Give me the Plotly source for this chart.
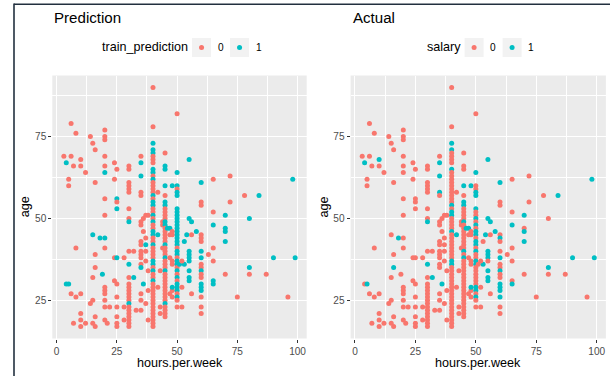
import plotly.graph_objects as go

# ---------------- data ----------------
hours = [
    3, 6, 4, 7, 10, 10, 5, 5, 6, 8, 12, 8, 4, 5, 6, 8, 10, 7, 10, 10, 10, 12,
    14, 15, 16, 16, 15, 16, 16, 15, 14, 15, 15, 16, 16,
    18, 19, 20, 20, 20, 20, 20, 20, 20, 20, 20, 20, 20, 20, 20, 20, 20, 20, 21,
    22, 24, 25, 24, 25, 25, 25, 24, 25, 24, 25, 25, 25, 25, 25, 25, 28, 28, 28,
    30, 30, 30, 30, 30, 30, 30, 30, 30, 30, 30, 30, 30, 30, 30, 30, 30, 30, 30, 30, 30, 30, 30, 30, 30, 30,
    32, 32, 33, 35, 35, 35, 35, 35, 35, 35, 35, 35, 35, 35, 35, 35, 35, 35, 35, 35, 36, 37, 38, 36, 37, 37, 38, 36, 37,
    37, 38, 38, 37,
    40, 40, 40, 40, 40, 40, 40, 40, 40, 40, 40, 40, 40, 40, 40, 40, 40, 40, 40, 40, 40, 40, 40, 40, 40, 40, 40, 40,
    40, 40, 40, 40, 40, 40, 40, 40, 40, 40, 40, 40, 40, 40, 40, 40, 40, 40, 40, 40, 40, 40, 40, 40, 40, 40, 40, 40, 40,
    42, 42, 42, 43, 43, 43, 44, 44, 44,
    45, 45, 45, 45, 45, 45, 45, 45, 45, 45, 45, 45, 45, 45, 45, 45, 45, 45, 45, 45, 45,
    45, 45, 45, 45, 45, 45, 45, 45, 45, 45, 45, 45, 45, 45, 45, 45, 45, 45, 45, 45,
    46, 47, 47, 48, 48, 47, 48, 48, 48, 48, 47, 48, 48,
    50, 50, 50, 50, 50, 50, 50, 50, 50, 50, 50, 50, 50, 50, 50, 50, 50, 50,
    50, 50, 50, 50, 50, 50, 50, 50, 50, 50, 50, 50, 50, 50, 50, 50, 50, 50,
    51, 52, 52, 53, 53, 52, 54,
    55, 55, 56, 58, 56, 55, 55, 55, 55, 55, 55, 55, 56,
    60, 60, 60, 60, 60, 60, 60, 60, 60, 60, 60, 60, 60, 60, 60, 60, 60, 60, 60,
    63, 65, 65, 65, 65, 65, 65, 65, 70, 70, 70, 70, 70, 72, 72, 75, 78, 80, 80, 80, 84, 87, 90, 96, 98, 99,
]
age = [
    69, 69, 67, 66, 68, 66, 62, 60, 79, 76, 64, 41, 30, 30, 27, 26, 27, 18, 17, 19, 21, 18,
    75, 73, 71, 61, 45, 39, 35, 32, 24, 25, 18, 17, 20,
    44, 33, 77, 75, 74, 69, 66, 64, 56, 51, 44, 41, 29, 28, 27, 25, 23, 19, 18,
    23, 67, 65, 62, 56, 55, 53, 38, 38, 31, 30, 26, 23, 20, 18, 17, 38, 23, 19,
    66, 65, 61, 60, 59, 58, 53, 50, 49, 40, 36, 32, 30, 29, 28, 27, 26, 25, 24, 23, 22, 21, 20, 19, 18, 17,
    40, 32, 22, 69, 67, 63, 58, 57, 49, 48, 43, 42, 40, 39, 38, 36, 35, 27, 25, 22, 50, 51, 51, 30, 42, 37, 19, 46, 44,
    40, 34, 28, 24,
    90, 78, 73, 71, 70, 69, 68, 67, 65, 64, 63, 62, 61, 60, 59, 58, 57, 56, 55, 54, 53, 52, 51, 50, 49, 48, 47, 46,
    45, 44, 43, 42, 41, 40, 39, 38, 37, 36, 35, 34, 33, 32, 31, 30, 29, 28, 27, 26, 25, 24, 23, 22, 21, 20, 19, 18, 17,
    58, 45, 29, 34, 23, 21, 41, 48, 49,
    70, 66, 65, 60, 57, 55, 54, 53, 52, 51, 50, 49, 48, 47, 46, 45, 44, 43, 42, 41, 40,
    39, 38, 37, 36, 35, 34, 33, 32, 31, 30, 29, 28, 27, 26, 25, 24, 23, 22, 21, 20,
    47, 47, 45, 45, 46, 27, 28, 26, 29, 60, 38, 37, 36,
    82, 64, 60, 59, 58, 57, 53, 52, 51, 50, 49, 48, 47, 46, 45, 44, 43, 42,
    41, 40, 39, 38, 37, 36, 35, 34, 33, 32, 31, 30, 29, 28, 27, 26, 25, 23,
    36, 29, 23, 43, 36, 37, 45,
    68, 50, 49, 46, 45, 40, 39, 38, 37, 34, 32, 31, 27,
    61, 55, 54, 45, 44, 43, 40, 38, 36, 35, 34, 33, 32, 30, 29, 28, 26, 23, 21,
    39, 62, 52, 48, 41, 37, 31, 30, 51, 47, 46, 43, 33, 63, 55, 26, 57, 50, 35, 33, 57, 33, 38, 26, 62, 38,
]
train_prediction = [
    0, 0, 1, 0, 0, 0, 0, 0, 0, 0, 0, 0, 1, 1, 0, 0, 0, 0, 0, 0, 0, 0,
    0, 0, 0, 0, 1, 0, 0, 0, 0, 0, 0, 0, 0,
    1, 1, 0, 0, 0, 0, 0, 1, 0, 0, 1, 0, 0, 0, 0, 0, 0, 0, 0,
    0, 0, 0, 0, 1, 0, 1, 0, 1, 0, 0, 0, 0, 0, 0, 0, 0, 0, 0,
    0, 0, 0, 0, 0, 0, 0, 0, 1, 0, 1, 0, 0, 0, 0, 0, 0, 0, 1, 0, 0, 0, 0, 0, 0, 0,
    0, 1, 0, 0, 1, 1, 0, 0, 0, 0, 0, 0, 0, 0, 0, 0, 1, 0, 0, 0, 0, 0, 0, 1, 1, 0, 0, 0, 0,
    0, 0, 0, 0,
    0, 0, 1, 1, 1, 0, 0, 0, 1, 1, 0, 1, 0, 0, 0, 0, 1, 0, 1, 1, 0, 0, 1, 0, 1, 0, 0, 1,
    1, 0, 0, 1, 0, 0, 0, 0, 1, 1, 0, 1, 0, 0, 1, 0, 0, 0, 0, 0, 0, 0, 0, 0, 0, 0, 0, 0, 0,
    0, 1, 0, 0, 0, 0, 0, 0, 0,
    0, 1, 1, 1, 0, 1, 1, 0, 0, 0, 0, 1, 1, 0, 0, 0, 0, 0, 1, 0, 0,
    0, 1, 0, 0, 0, 1, 0, 0, 0, 0, 0, 0, 0, 0, 0, 1, 0, 0, 0, 0,
    1, 1, 0, 0, 0, 0, 0, 0, 1, 1, 0, 0, 0,
    0, 1, 1, 0, 1, 1, 1, 1, 1, 1, 1, 1, 1, 1, 1, 1, 1, 1,
    0, 1, 1, 0, 1, 1, 0, 1, 0, 1, 0, 1, 1, 1, 0, 1, 0, 0,
    1, 0, 0, 1, 1, 0, 1,
    1, 1, 1, 1, 0, 1, 1, 1, 1, 1, 1, 1, 0,
    1, 0, 0, 0, 0, 0, 1, 1, 0, 0, 1, 0, 0, 1, 1, 1, 0, 0, 0,
    0, 0, 0, 1, 0, 0, 1, 1, 1, 1, 1, 1, 0, 0, 0, 0, 0, 1, 1, 0, 1, 0, 1, 0, 1, 1,
]
salary = [
    0, 0, 1, 0, 1, 0, 0, 0, 0, 0, 0, 0, 0, 1, 0, 0, 0, 0, 0, 0, 0, 0,
    0, 0, 0, 0, 0, 0, 1, 0, 0, 0, 0, 0, 0,
    1, 0, 0, 0, 0, 0, 0, 0, 0, 0, 0, 0, 0, 0, 0, 0, 0, 0, 0,
    0, 0, 0, 0, 0, 0, 0, 0, 0, 0, 0, 0, 0, 0, 0, 0, 0, 0, 0,
    0, 0, 0, 0, 0, 0, 0, 0, 1, 0, 1, 0, 0, 0, 0, 0, 0, 0, 0, 0, 0, 0, 0, 0, 0, 0,
    0, 1, 0, 0, 1, 1, 1, 0, 0, 0, 0, 0, 0, 0, 0, 0, 0, 0, 0, 0, 0, 0, 0, 1, 0, 0, 0, 0, 0,
    0, 0, 0, 0,
    0, 0, 1, 1, 0, 0, 0, 0, 1, 0, 0, 0, 0, 0, 0, 0, 0, 0, 0, 1, 0, 1, 1, 0, 0, 0, 0, 1,
    0, 0, 0, 0, 0, 0, 0, 0, 1, 1, 0, 0, 0, 0, 0, 0, 0, 0, 0, 0, 0, 0, 0, 0, 0, 0, 0, 0, 0,
    0, 1, 0, 0, 0, 0, 0, 0, 0,
    0, 0, 0, 1, 0, 1, 1, 0, 0, 0, 0, 1, 0, 0, 0, 0, 0, 0, 0, 0, 1,
    0, 1, 0, 0, 0, 0, 0, 0, 0, 0, 0, 0, 0, 0, 0, 0, 0, 0, 0, 0,
    1, 1, 0, 0, 0, 0, 0, 0, 1, 1, 0, 0, 0,
    0, 1, 0, 0, 1, 1, 1, 0, 0, 1, 0, 1, 0, 1, 1, 0, 1, 1,
    0, 1, 0, 0, 1, 1, 0, 0, 0, 0, 0, 0, 1, 1, 0, 1, 0, 0,
    0, 0, 0, 0, 1, 0, 1,
    1, 1, 1, 1, 0, 1, 1, 1, 0, 1, 1, 1, 0,
    1, 0, 0, 0, 1, 0, 0, 1, 0, 0, 1, 0, 0, 1, 1, 1, 1, 0, 0,
    0, 0, 0, 1, 0, 0, 0, 1, 1, 0, 1, 1, 0, 0, 0, 0, 0, 0, 1, 0, 1, 0, 1, 0, 1, 1,
]
assert len(hours) == len(age) == len(train_prediction) == len(salary)

panel_titles = ["Prediction", "Actual"]
legend_titles = ["train_prediction", "salary"]
legend_levels = ["0", "1"]
x_ticks = [0, 25, 50, 75, 100]
y_ticks = [25, 50, 75]

# ---------------- styling ----------------
W, H = 610, 376
RED, CYAN = "#F8766D", "#00BFC4"
FONT = "Liberation Sans, Arial, Helvetica, sans-serif"
level_colors = [RED, CYAN]


def px(x):
    return x / W


def py(y):
    return 1 - y / H


# ggplot-like expanded ranges (5 %)
xmin, xmax = min(hours), max(hours)
ymin, ymax = min(age), max(age)
xr = [xmin - 0.05 * (xmax - xmin), xmax + 0.05 * (xmax - xmin)]
yr = [ymin - 0.05 * (ymax - ymin), ymax + 0.05 * (ymax - ymin)]

panels_px = [(52.3, 306.7), (350.6, 605.9)]
top_px, bot_px = 75.5, 338.5

fig = go.Figure()
for i, labels in enumerate([train_prediction, salary]):
    sfx = "" if i == 0 else "2"
    fig.add_trace(go.Scatter(
        x=hours, y=age, mode="markers",
        xaxis="x" + sfx, yaxis="y" + sfx,
        marker=dict(size=5, color=[level_colors[v] for v in labels], line=dict(width=0)),
        showlegend=False, hoverinfo="skip",
    ))

axis_common = dict(
    showgrid=True, gridcolor="white", gridwidth=1.1,
    zeroline=False, showline=False,
    ticks="outside", ticklen=3, tickwidth=1.1, tickcolor="#333333",
    tickfont=dict(family=FONT, size=10.1, color="#4D4D4D"),
    minor=dict(showgrid=True, gridcolor="white", gridwidth=0.55, dtick=12.5, tick0=0),
    automargin=False, fixedrange=True,
)

layout = dict(
    width=W, height=H,
    margin=dict(l=0, r=0, t=0, b=0),
    paper_bgcolor="white", plot_bgcolor="#EBEBEB",
    font=dict(family=FONT),
    showlegend=False,
)
for i, (l, r) in enumerate(panels_px):
    sfx = "" if i == 0 else "2"
    layout["xaxis" + sfx] = dict(axis_common, domain=[px(l), px(r)], range=xr,
                                 tickmode="array", tickvals=x_ticks,
                                 ticktext=[str(t) for t in x_ticks],
                                 anchor="y" + sfx)
    layout["yaxis" + sfx] = dict(axis_common, domain=[py(bot_px), py(top_px)], range=yr,
                                 tickmode="array", tickvals=y_ticks,
                                 ticktext=[str(t) for t in y_ticks],
                                 anchor="x" + sfx)
fig.update_layout(**layout)

annotations = []
shapes = []
for i, (l, r) in enumerate(panels_px):
    cx = (l + r) / 2
    # panel title
    annotations.append(dict(text=panel_titles[i], x=px(l), y=py(17), xref="paper", yref="paper",
                            xanchor="left", yanchor="middle", showarrow=False,
                            font=dict(family=FONT, size=15.1, color="black")))
    # axis titles
    annotations.append(dict(text="hours.per.week", x=px(cx), y=py(362.5), xref="paper", yref="paper",
                            xanchor="center", yanchor="middle", showarrow=False,
                            font=dict(family=FONT, size=12.6, color="black")))
    annotations.append(dict(text="age", x=px(l - 27), y=py((top_px + bot_px) / 2), xref="paper", yref="paper",
                            xanchor="center", yanchor="middle", showarrow=False, textangle=-90,
                            font=dict(family=FONT, size=12.6, color="black")))
    # legend (ggplot style, top)
    title_w = {"train_prediction": 86.0, "salary": 33.6}[legend_titles[i]]
    total = title_w + 6 + 66.9
    s = cx - total / 2
    ly = 47.5
    annotations.append(dict(text=legend_titles[i], x=px(s), y=py(ly), xref="paper", yref="paper",
                            xanchor="left", yanchor="middle", showarrow=False,
                            font=dict(family=FONT, size=12.6, color="black")))
    k0 = s + title_w + 6
    for j, lev in enumerate(legend_levels):
        bx = k0 + j * 38
        shapes.append(dict(type="rect", xref="paper", yref="paper",
                           x0=px(bx), x1=px(bx + 19), y0=py(ly + 9.5), y1=py(ly - 9.5),
                           fillcolor="#F2F2F2", line=dict(width=0), layer="above"))
        ccx = bx + 9.5
        shapes.append(dict(type="circle", xref="paper", yref="paper",
                           x0=px(ccx - 2.5), x1=px(ccx + 2.5), y0=py(ly + 2.5), y1=py(ly - 2.5),
                           fillcolor=level_colors[j], line=dict(width=0), layer="above"))
        annotations.append(dict(text=lev, x=px(bx + 23.5), y=py(ly), xref="paper", yref="paper",
                                xanchor="left", yanchor="middle", showarrow=False,
                                font=dict(family=FONT, size=10.1, color="black")))

# screenshot frame lines (left and top)
shapes.append(dict(type="line", xref="paper", yref="paper", x0=px(14), x1=px(14), y0=0, y1=py(3.5),
                   line=dict(color="#22303F", width=1.6)))
shapes.append(dict(type="line", xref="paper", yref="paper", x0=px(14), x1=1, y0=py(4.3), y1=py(4.3),
                   line=dict(color="#22303F", width=1.6)))

fig.update_layout(annotations=annotations, shapes=shapes)
fig.write_html("out.html")
